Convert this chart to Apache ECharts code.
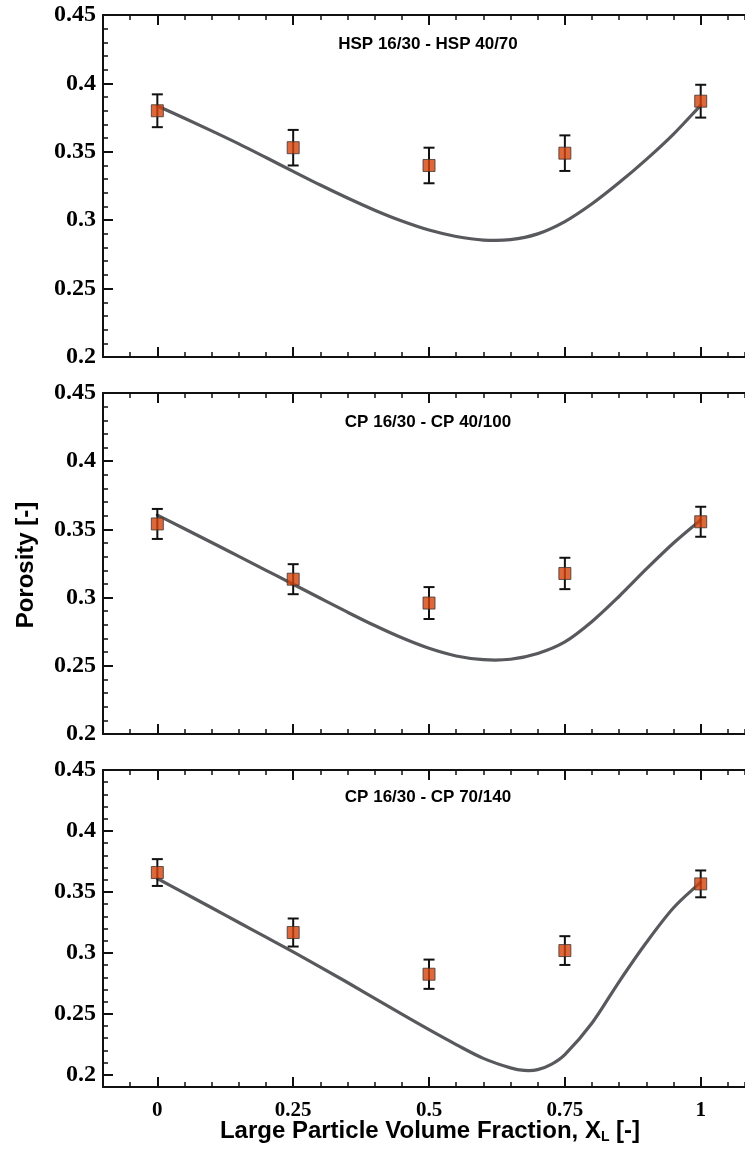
<!DOCTYPE html>
<html>
<head>
<meta charset="utf-8">
<script src="https://cdn.jsdelivr.net/npm/echarts@6/dist/echarts.min.js"></script>
<style>
html,body{margin:0;padding:0;background:#fff;}
#chart{width:745px;height:1149px;}
</style>
</head>
<body>
<div id="chart"></div>
<script>
// ---------- data ----------
const xVals = [0, 0.25, 0.5, 0.75, 1];
const xTickValues = [0, 0.25, 0.5, 0.75, 1];
const yTickValues = [0.2, 0.25, 0.3, 0.35, 0.4, 0.45];
const panelTitles = ['HSP 16/30 - HSP 40/70', 'CP 16/30 - CP 40/100', 'CP 16/30 - CP 70/140'];

const hspMean = [0.380, 0.353, 0.340, 0.349, 0.387];
const hspErr  = [0.012, 0.013, 0.013, 0.013, 0.012];
const cp100Mean = [0.354, 0.3135, 0.296, 0.3177, 0.3556];
const cp100Err  = [0.011, 0.011, 0.0117, 0.0115, 0.011];
const cp140Mean = [0.3659, 0.3167, 0.2825, 0.3019, 0.3566];
const cp140Err  = [0.011, 0.0115, 0.012, 0.0118, 0.011];

const curveX12 = [0,0.05,0.1,0.15,0.2,0.25,0.3,0.35,0.4,0.45,0.5,0.55,0.6,0.65,0.7,0.75,0.8,0.85,0.9,0.95,1];
const hspModel = [0.3835,0.3745,0.3653,0.3558,0.3458,0.3357,0.3257,0.3162,0.3073,0.2994,0.2928,0.2881,0.2855,0.2858,0.2900,0.2990,0.3120,0.3275,0.3445,0.3630,0.3840];
const cp100Model = [0.3605,0.3505,0.3404,0.3302,0.3200,0.3098,0.2995,0.2893,0.2795,0.2705,0.2628,0.2572,0.2545,0.2548,0.2590,0.2675,0.2825,0.3010,0.3210,0.3400,0.3570];
const curveX3 = [0,0.05,0.1,0.15,0.2,0.25,0.3,0.35,0.4,0.45,0.5,0.55,0.6,0.65,0.675,0.7,0.725,0.75,0.8,0.85,0.9,0.95,1];
const cp140Model = [0.361,0.349,0.337,0.3249,0.3129,0.3008,0.2884,0.2757,0.2627,0.2497,0.2370,0.2248,0.2135,0.2057,0.2036,0.2042,0.2085,0.2165,0.2425,0.2765,0.3085,0.3370,0.3580];

const yMins = [0.2, 0.2, 0.19];
const yMax = 0.45;
const xMin = -0.1, xMax = 1.0815;

// ---------- build ----------
const chart = echarts.init(document.getElementById('chart'), null, {renderer:'canvas'});
const grids = [
  {left:103, top:15, right:0, height:342},
  {left:103, top:393, right:0, height:341},
  {left:103, top:770, right:0, height:317}
];
const serifFont = 'Liberation Serif';
const sansFont = 'Liberation Sans';

const xAxes = [], yAxes = [], series = [];
const panels = [
  {mean:hspMean, err:hspErr, cx:curveX12, cy:hspModel},
  {mean:cp100Mean, err:cp100Err, cx:curveX12, cy:cp100Model},
  {mean:cp140Mean, err:cp140Err, cx:curveX3, cy:cp140Model}
];

function fmt(v){ return String(+v.toFixed(2)); }

// smooth cubic Hermite path through pixel points
function smoothPath(pts){
  const n = pts.length, m = [];
  for (let i = 0; i < n; i++) {
    const a = pts[Math.max(0, i-1)], b = pts[Math.min(n-1, i+1)];
    m.push((b[1]-a[1])/(b[0]-a[0]));
  }
  let d = 'M' + pts[0][0] + ' ' + pts[0][1];
  for (let i = 0; i < n-1; i++) {
    const h = (pts[i+1][0]-pts[i][0]) / 3;
    d += ' C' + (pts[i][0]+h) + ' ' + (pts[i][1]+m[i]*h) + ' ' +
         (pts[i+1][0]-h) + ' ' + (pts[i+1][1]-m[i+1]*h) + ' ' +
         pts[i+1][0] + ' ' + pts[i+1][1];
  }
  return d;
}

panels.forEach((p, g) => {
  const baseX = {type:'value', gridIndex:g, min:xMin, max:xMax, splitLine:{show:false}};
  xAxes.push(Object.assign({}, baseX, {
    position:'bottom',
    axisLine:{show:true, onZero:false, lineStyle:{color:'#111', width:2}},
    axisTick:{show:true, inside:true, length:10, customValues:xTickValues, lineStyle:{color:'#111', width:2}},
    axisLabel:{show:g===2, customValues:xTickValues, margin:13, color:'#000',
      fontFamily:serifFont, fontWeight:'bold', fontSize:21, formatter:fmt}
  }));
  xAxes.push(Object.assign({}, baseX, {
    position:'bottom', interval:0.05,
    axisLine:{show:false, onZero:false},
    axisTick:{show:true, inside:true, length:5, lineStyle:{color:'#111', width:1.5}},
    axisLabel:{show:false}
  }));
  xAxes.push(Object.assign({}, baseX, {
    position:'top',
    axisLine:{show:true, onZero:false, lineStyle:{color:'#111', width:2}},
    axisTick:{show:true, inside:true, length:10, customValues:xTickValues, lineStyle:{color:'#111', width:2}},
    axisLabel:{show:false}
  }));
  xAxes.push(Object.assign({}, baseX, {
    position:'top', interval:0.05,
    axisLine:{show:false, onZero:false},
    axisTick:{show:true, inside:true, length:5, lineStyle:{color:'#111', width:1.5}},
    axisLabel:{show:false}
  }));

  const baseY = {type:'value', gridIndex:g, min:yMins[g], max:yMax, splitLine:{show:false}};
  yAxes.push(Object.assign({}, baseY, {
    position:'left',
    axisLine:{show:true, onZero:false, lineStyle:{color:'#111', width:2}},
    axisTick:{show:true, inside:true, length:10, customValues:yTickValues, lineStyle:{color:'#111', width:2}},
    axisLabel:{show:true, customValues:yTickValues, margin:7, color:'#000',
      fontFamily:serifFont, fontWeight:'bold', fontSize:24, formatter:fmt}
  }));
  yAxes.push(Object.assign({}, baseY, {
    position:'left', interval:0.01,
    axisLine:{show:false, onZero:false},
    axisTick:{show:true, inside:true, length:5, lineStyle:{color:'#111', width:1.5}},
    axisLabel:{show:false}
  }));

  const xi = g*4, yi = g*2;
  series.push({
    type:'custom', xAxisIndex:xi, yAxisIndex:yi,
    data: p.cx.map((x,i)=>[x, p.cy[i]]),
    renderItem: function(params, api){
      if (params.dataIndex !== 0) return null;
      const pts = p.cx.map((x,i)=>api.coord([x, p.cy[i]]));
      return {type:'path', shape:{pathData:smoothPath(pts)},
        style:{fill:null, stroke:'#58595c', lineWidth:3.2, lineJoin:'round', lineCap:'round'}};
    },
    z:2, silent:true, animation:false
  });
  series.push({
    type:'custom', xAxisIndex:xi, yAxisIndex:yi,
    data: xVals.map((x,i)=>[x, p.mean[i], p.err[i]]),
    renderItem: function(params, api){
      const x = api.value(0), y = api.value(1), e = api.value(2);
      const hi = api.coord([x, y+e]);
      const lo = api.coord([x, y-e]);
      const hw = 5.5;
      const st = {stroke:'#111', lineWidth:2};
      return {type:'group', children:[
        {type:'line', shape:{x1:hi[0], y1:hi[1], x2:lo[0], y2:lo[1]}, style:st},
        {type:'line', shape:{x1:hi[0]-hw, y1:hi[1], x2:hi[0]+hw, y2:hi[1]}, style:st},
        {type:'line', shape:{x1:lo[0]-hw, y1:lo[1], x2:lo[0]+hw, y2:lo[1]}, style:st}
      ]};
    },
    z:3, silent:true, animation:false
  });
  series.push({
    type:'scatter', xAxisIndex:xi, yAxisIndex:yi,
    data: xVals.map((x,i)=>[x, p.mean[i]]),
    symbol:'rect', symbolSize:[12,12],
    itemStyle:{color:'#d4420a', borderColor:'#3f3530', borderWidth:1},
    z:4, silent:true, animation:false
  });
});

const titleY = [44, 422, 797];
const graphics = panelTitles.map((t, i) => ({
  type:'text', x:428, y:titleY[i],
  style:{text:t, fill:'#000', font:'bold 17px "' + sansFont + '"', textAlign:'center', textVerticalAlign:'middle'}
}));
graphics.push({
  type:'text', x:26, y:565, rotation:Math.PI/2,
  style:{text:'Porosity [-]', fill:'#000', font:'bold 24px "' + sansFont + '"', textAlign:'center', textVerticalAlign:'middle'}
});
graphics.push({
  type:'text', x:430, y:1131,
  style:{
    text:'{a|Large Particle Volume Fraction, X}{b|L}{a| [-]}',
    textAlign:'center', textVerticalAlign:'middle',
    rich:{
      a:{fontFamily:sansFont, fontWeight:'bold', fontSize:24, lineHeight:26, fill:'#000', color:'#000'},
      b:{fontFamily:sansFont, fontWeight:'bold', fontSize:14, lineHeight:14, verticalAlign:'bottom', fill:'#000', color:'#000'}
    }
  }
});

chart.setOption({
  animation:false,
  backgroundColor:'#fff',
  grid:grids,
  xAxis:xAxes,
  yAxis:yAxes,
  series:series,
  graphic:graphics
});
</script>
</body>
</html>
